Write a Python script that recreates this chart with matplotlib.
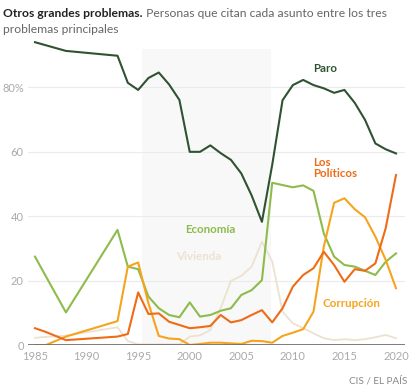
import matplotlib
matplotlib.use("Agg")
import matplotlib.pyplot as plt

plt.rcParams['font.family'] = ['Lato', 'DejaVu Sans']

years = [1985, 1986, 1988, 1993, 1994, 1995, 1996, 1997, 1998, 1999, 2000,
         2001, 2002, 2003, 2004, 2005, 2006, 2007, 2008, 2009, 2010, 2011,
         2012, 2013, 2014, 2015, 2016, 2017, 2018, 2019, 2020]

paro = [94.0, 93.1, 91.3, 89.8, 81.4, 79.2, 82.9, 84.6, 80.9, 76.1, 60.0,
        60.0, 62.0, 59.6, 57.5, 53.3, 46.5, 38.3, 56.0, 76.0, 80.7, 82.3,
        80.7, 79.7, 78.3, 79.2, 75.2, 69.9, 62.6, 60.8, 59.5]
economia = [27.5, 21.7, 10.2, 35.8, 24.4, 23.6, 15.1, 11.5, 9.4, 8.7, 13.3,
            8.9, 9.4, 10.7, 11.5, 15.6, 17.1, 20.2, 50.4, 49.7, 49.0, 49.6,
            47.9, 34.7, 27.5, 24.9, 24.4, 23.1, 21.8, 25.9, 28.5]
politicos = [5.3, 4.2, 1.6, 2.7, 3.5, 16.4, 9.7, 9.9, 7.3, 6.3, 5.3,
             5.6, 6.0, 9.4, 7.1, 7.8, 9.4, 10.9, 7.1, 11.5, 18.2, 21.8,
             23.9, 29.0, 24.9, 19.7, 23.6, 23.1, 25.4, 36.3, 52.8]
corrupcion = [0.0, 0.0, 2.7, 7.5, 24.4, 25.7, 13.0, 2.9, 2.1, 1.9, 0.1,
              0.4, 0.8, 0.8, 0.6, 0.4, 1.4, 1.3, 0.8, 2.9, 3.9, 5.0,
              10.4, 30.6, 44.2, 45.6, 42.2, 39.7, 33.7, 26.5, 17.7]
vivienda = [2.3, 2.6, 3.0, 5.6, 1.3, 0.3, 0.3, 0.3, 0.3, 0.3, 2.7,
            3.1, 4.7, 11.5, 20.0, 21.5, 24.4, 32.1, 26.0, 10.4, 6.8, 5.3,
            3.7, 2.2, 1.6, 1.9, 1.6, 1.9, 2.5, 3.2, 2.2]

yticks = [0, 20, 40, 60, 80]
ytick_labels = ['0', '20', '40', '60', '80%']
xticks = [1985, 1990, 1995, 2000, 2005, 2010, 2015, 2020]

c_paro = '#2f5233'
c_eco = '#8dbb4c'
c_pol = '#ee6c17'
c_cor = '#f6a41e'
c_viv = '#ece2cf'

fig = plt.figure(figsize=(4.14, 3.91), dpi=100)
ax = fig.add_axes([0.0676, 0.1169, 0.9106, 0.7834])

ax.axvspan(1995.4, 2007.9, ymin=0, ymax=92 / 95, color='#f8f8f8', lw=0, zorder=0)
for v in yticks[1:]:
    ax.axhline(v, color='#ebebeb', lw=0.8, zorder=1)

ax.plot(years, vivienda, color=c_viv, lw=1.3, zorder=2)
ax.plot(years, economia, color=c_eco, lw=1.5, zorder=3)
ax.plot(years, corrupcion, color=c_cor, lw=1.5, zorder=4)
ax.plot(years, politicos, color=c_pol, lw=1.5, zorder=5)
ax.plot(years, paro, color=c_paro, lw=1.5, zorder=6)

ax.axhline(0, color='#666666', lw=1.2, zorder=7)

ax.set_xlim(1984.32, 2020.87)
ax.set_ylim(0, 95)
ax.set_yticks(yticks)
ax.set_yticklabels(ytick_labels)
ax.set_xticks(xticks)
for s in ax.spines.values():
    s.set_visible(False)
ax.tick_params(length=0, colors='#aaaaaa', labelsize=8)
ax.tick_params(axis='y', pad=3)
ax.tick_params(axis='x', pad=4)

lab = dict(fontsize=8.3, fontweight='bold')
ax.text(2013.1, 86, 'Paro', color=c_paro, ha='center', va='center', **lab)
ax.text(2012.0, 55, 'Los\nPolíticos', color=c_pol, ha='left', va='center',
        linespacing=1.1, **lab)
ax.text(2002.0, 36, 'Economía', color=c_eco, ha='center', va='center', **lab)
ax.text(2000.9, 27.5, 'Vivienda', color=c_viv, ha='center', va='center', **lab)
ax.text(2015.7, 13, 'Corrupción', color=c_cor, ha='center', va='center', **lab)

t1 = fig.text(0.008, 0.956, 'Otros grandes problemas.', fontsize=8.7,
              fontweight='bold', color='#222222', va='baseline')
fig.text(0.008, 0.915, 'problemas principales', fontsize=8.7,
         color='#666666', va='baseline')
ax.annotate(' Personas que citan cada asunto entre los tres', xy=(1, 0),
            xycoords=t1, va='bottom', ha='left', fontsize=8.7,
            color='#666666', annotation_clip=False)

fig.text(0.985, 0.015, 'CIS / EL PAÍS', fontsize=7.2, color='#888888',
         ha='right', va='bottom')

fig.savefig('out.png', dpi=100)
